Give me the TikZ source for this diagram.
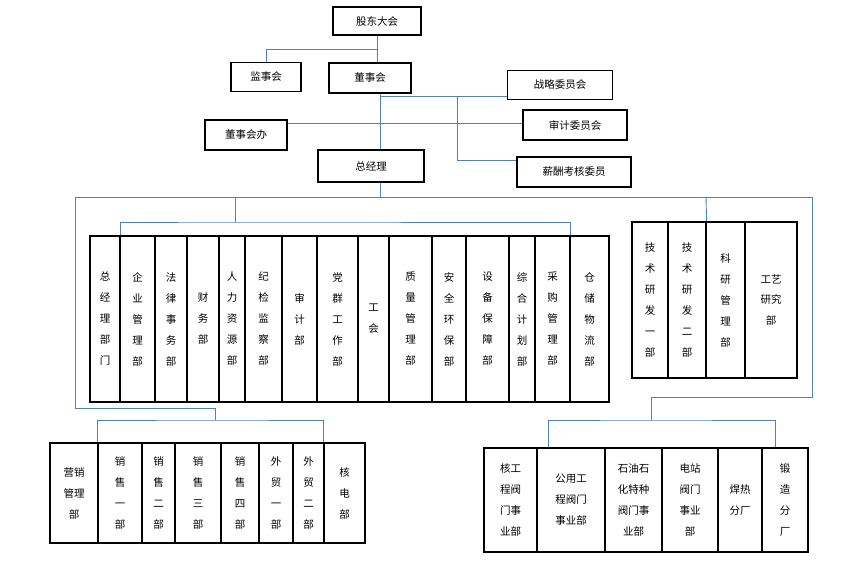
\documentclass[tikz,border=0pt]{standalone}
\usepackage{fontspec}
\setmainfont{Noto Sans CJK SC}
\usetikzlibrary{positioning, calc}
\definecolor{linkblue}{RGB}{79,129,189}

\begin{document}
\begin{tikzpicture}[x=1pt, y=-1pt,
    unit/.style={rectangle, draw, line width=1.2pt, align=center, inner sep=1pt, font=\fontsize{10.5}{14}\selectfont},
    dept/.style={unit, font=\fontsize{10.5}{21}\selectfont},
    link/.style={draw=linkblue, line width=0.9pt}
]
    \useasboundingbox (0,0) rectangle (854,569);

    % Top management
    \node[unit, minimum width=88, minimum height=28] (gd) at (377,21) {股东大会};
    \node[unit, minimum width=70, minimum height=29] (jsh) at (266,77) {监事会};
    \node[unit, minimum width=82, minimum height=30] (dsh) at (370,78) {董事会};
    \node[unit, minimum width=105, minimum height=29] (zl) at (560,85) {战略委员会};
    \node[unit, minimum width=104, minimum height=30] (sj) at (575,125) {审计委员会};
    \node[unit, minimum width=82, minimum height=30] (dsb) at (246,135) {董事会办};
    \node[unit, minimum width=114, minimum height=30] (xc) at (574,172) {薪酬考核委员};
    \node[unit, minimum width=106, minimum height=32] (zjl) at (371,166) {总经理};

    \draw[link] (gd.south) -- ++(0,14) -| (jsh.north);
    \draw[link] (gd.south) -- (dsh.north -| gd.south);
    \draw[link] (dsh.south -| 380,0) -- (zjl.north -| 380,0);
    \draw[link] (380,96) -- (zl.west |- 380,96);
    \draw[link] (457,96) |- (xc.west |- 457,160);
    \draw[link] (dsb.east |- 0,123) -- (sj.west |- 0,123);

    % Functional departments
    \node[dept, minimum width=30, minimum height=166] (zjlbm) at (105,319) {总\\经\\理\\部\\门};
    \node[dept, minimum width=35, minimum height=166] (qygl) at (137.5,319) {企\\业\\管\\理\\部};
    \node[dept, minimum width=32, minimum height=166] (flsw) at (171,319) {法\\律\\事\\务\\部};
    \node[dept, minimum width=32, minimum height=166] (cw) at (203,319) {财\\务\\部};
    \node[dept, minimum width=26, minimum height=166] (rlzy) at (232,319) {人\\力\\资\\源\\部};
    \node[dept, minimum width=37, minimum height=166] (jjjc) at (263.5,319) {纪\\检\\监\\察\\部};
    \node[dept, minimum width=35, minimum height=166] (sjb) at (299.5,319) {审\\计\\部};
    \node[dept, minimum width=41, minimum height=166] (dqgz) at (337.5,319) {党\\群\\工\\作\\部};
    \node[dept, minimum width=31, minimum height=166] (gh) at (373.5,319) {工\\会};
    \node[dept, minimum width=43, minimum height=166] (zlgl) at (410.5,319) {质\\量\\管\\理\\部};
    \node[dept, minimum width=34, minimum height=166] (aqhb) at (449,319) {安\\全\\环\\保\\部};
    \node[dept, minimum width=43, minimum height=166] (sbbz) at (487.5,319) {设\\备\\保\\障\\部};
    \node[dept, minimum width=26, minimum height=166] (zhjh) at (522,319) {综\\合\\计\\划\\部};
    \node[dept, minimum width=35, minimum height=166] (cggl) at (552.5,319) {采\\购\\管\\理\\部};
    \node[dept, minimum width=39, minimum height=166] (ccwl) at (589.5,319) {仓\\储\\物\\流\\部};

    % Research departments
    \node[dept, minimum width=36, minimum height=156] (jsyf1) at (650,300) {技\\术\\研\\发\\一\\部};
    \node[dept, minimum width=38, minimum height=156] (jsyf2) at (687,300) {技\\术\\研\\发\\二\\部};
    \node[dept, minimum width=39, minimum height=156] (kygl) at (725.5,300) {科\\研\\管\\理\\部};
    \node[dept, minimum width=52, minimum height=156] (gyyj) at (771,300) {工艺\\研究\\部};

    % Sales departments
    \node[dept, minimum width=48, minimum height=100] (yxgl) at (74,493) {营销\\管理\\部};
    \node[dept, minimum width=44, minimum height=100] (xs1) at (120,493) {销\\售\\一\\部};
    \node[dept, minimum width=33, minimum height=100] (xs2) at (158.5,493) {销\\售\\二\\部};
    \node[dept, minimum width=46, minimum height=100] (xs3) at (198,493) {销\\售\\三\\部};
    \node[dept, minimum width=38, minimum height=100] (xs4) at (240,493) {销\\售\\四\\部};
    \node[dept, minimum width=34, minimum height=100] (wm1) at (276,493) {外\\贸\\一\\部};
    \node[dept, minimum width=31, minimum height=100] (wm2) at (308.5,493) {外\\贸\\二\\部};
    \node[dept, minimum width=41, minimum height=100] (hd) at (344.5,493) {核\\电\\部};

    % Business units
    \node[dept, minimum width=53, minimum height=104] (hgc) at (510.5,500) {核工\\程阀\\门事\\业部};
    \node[dept, minimum width=68, minimum height=104] (gygc) at (571,500) {公用工\\程阀门\\事业部};
    \node[dept, minimum width=57, minimum height=104] (syshi) at (633.5,500) {石油石\\化特种\\阀门事\\业部};
    \node[dept, minimum width=56, minimum height=104] (dz) at (690,500) {电站\\阀门\\事业\\部};
    \node[dept, minimum width=44, minimum height=104] (hr) at (740,500) {焊热\\分厂};
    \node[dept, minimum width=46, minimum height=104] (dzfc) at (785,500) {锻\\造\\分\\厂};

    % Connectors below general manager
    \draw[link] (zjl.south -| 380,0) -- (380,197);
    \draw[link] (75,197) -- (812,197);
    \draw[link] (235,197) -- (235,222);
    \draw[link] (zjlbm.north -| 120,0) |- (235,222) -| (ccwl.north -| 570,0);
    \draw[link] (706,197) -- (jsyf2.north east);
    \draw[link] (75,197) |- (215,408) -- (215,420);
    \draw[link] (xs1.north west) |- (215,420) -| (hd.north west);
    \draw[link] (812,197) |- (651,397) -- (651,420);
    \draw[link] (hgc.north -| 548,0) |- (651,420) -| (dzfc.north -| 775,0);
\end{tikzpicture}
\end{document}
